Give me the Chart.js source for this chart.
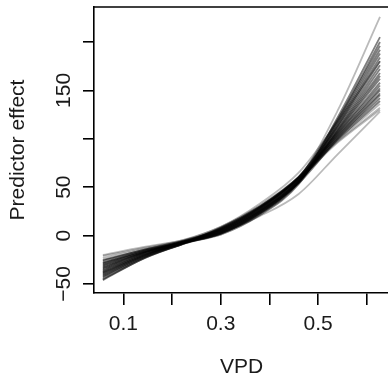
<!DOCTYPE html>
<html>
<head>
<meta charset="utf-8">
<script src="https://cdn.jsdelivr.net/npm/chart.js@4/dist/chart.umd.min.js"></script>
<style>
  html, body { margin: 0; padding: 0; background: #fff; overflow: hidden; }
  #wrap { width: 390px; height: 379px; position: relative; }
</style>
</head>
<body>
<div id="wrap"><canvas id="c"></canvas></div>
<script>
// VPD values at which each fitted curve was sampled
const VPD = [0.058, 0.14, 0.22, 0.30, 0.38, 0.46, 0.54, 0.627];

// predictor effect of each bootstrap fit
const FITS = [
  [-44, -23, -9, 3, 24, 58, 129, 226],
  [-46, -24, -9, 2, 22, 55, 122, 205],
  [-45, -24, -9, 6, 28, 60, 120, 200],
  [-43, -23, -9, 4, 25, 56, 119, 196],
  [-42, -22, -8, 1, 21, 53, 117, 192],
  [-41, -22, -8, 7, 29, 60, 116, 188],
  [-40, -21, -8, 5, 26, 57, 114, 184],
  [-39, -21, -8, 3, 23, 55, 113, 180],
  [-38, -20, -8, 8, 30, 61, 112, 176],
  [-37, -20, -8, 4, 25, 57, 110, 172],
  [-36, -19, -8, 2, 23, 55, 109, 168],
  [-35, -19, -8, 6, 27, 58, 108, 165],
  [-34, -18, -7, 5, 26, 56, 107, 162],
  [-33, -18, -7, 7, 29, 60, 106, 158],
  [-32, -18, -7, 3, 24, 55, 105, 155],
  [-31, -17, -7, 5, 27, 58, 104, 152],
  [-30, -17, -7, 8, 30, 60, 103, 150],
  [-29, -16, -7, 4, 25, 56, 102, 147],
  [-28, -16, -7, 6, 28, 59, 101, 145],
  [-26, -15, -6, 2, 23, 54, 100, 142],
  [-25, -15, -6, 7, 29, 59,  99, 139],
  [-23, -14, -6, 5, 26, 57,  98, 136],
  [-21, -13, -5, 9, 31, 60,  97, 132],
  [-20, -12, -5, 6, 28, 58,  96, 130],
  [-38, -21, -6, 9, 33, 65, 118, 180],
  [-28, -17, -7, 3, 20, 43,  84, 128],
];

const X_TICKS = [0.1, 0.2, 0.3, 0.4, 0.5, 0.6];
const X_LABELS = ["0.1", "", "0.3", "", "0.5", ""];
const Y_TICKS = [-50, 0, 50, 100, 150, 200];
const Y_LABELS = ["\u221250", "0", "50", "", "150", ""];

const LIGHT = [0, 21, 22, 23, 24, 25];   // fits drawn in a paler grey
const FONT = "21px 'Liberation Sans', Arial, sans-serif";
const INK = "#1a1a1a";

const datasets = FITS.map((vals, i) => ({
  data: vals.map((y, j) => ({ x: VPD[j], y })),
  borderColor: LIGHT.includes(i) ? "rgba(0,0,0,0.27)" : "rgba(0,0,0,0.5)",
  borderWidth: 1.8,
  pointRadius: 0,
  cubicInterpolationMode: "monotone",
  fill: false,
}));

// axis text, top border of the box (R style plot)
const rAxes = {
  id: "rAxes",
  afterDraw(chart) {
    const { ctx, chartArea: a, scales: { x, y } } = chart;
    ctx.save();
    ctx.strokeStyle = "#000";
    ctx.lineWidth = 1.6;
    ctx.beginPath();
    ctx.moveTo(a.left, a.top);
    ctx.lineTo(a.right + 2, a.top);
    ctx.stroke();

    ctx.fillStyle = INK;
    ctx.font = FONT;
    ctx.textAlign = "center";
    ctx.textBaseline = "middle";
    X_TICKS.forEach((v, i) => {
      if (X_LABELS[i]) ctx.fillText(X_LABELS[i], x.getPixelForValue(v), 324);
    });
    ctx.fillText("VPD", (a.left + a.right) / 2, 367);

    Y_TICKS.forEach((v, i) => {
      if (!Y_LABELS[i]) return;
      ctx.save();
      ctx.translate(64, y.getPixelForValue(v));
      ctx.rotate(-Math.PI / 2);
      ctx.fillText(Y_LABELS[i], 0, 0);
      ctx.restore();
    });
    ctx.save();
    ctx.translate(18, (a.top + a.bottom) / 2);
    ctx.rotate(-Math.PI / 2);
    ctx.fillText("Predictor effect", 0, 0);
    ctx.restore();
    ctx.restore();
  },
};

new Chart(document.getElementById("c"), {
  type: "line",
  data: { datasets },
  options: {
    responsive: true,
    maintainAspectRatio: false,
    animation: false,
    layout: { padding: { top: 7, right: 1, left: 0, bottom: 0 } },
    plugins: { legend: { display: false }, tooltip: { enabled: false } },
    scales: {
      x: {
        type: "linear",
        min: 0.0398,
        max: 0.6455,
        afterBuildTicks: (s) => { s.ticks = X_TICKS.map((value) => ({ value })); },
        afterFit: (s) => { s.height = 86; },
        ticks: { display: false },
        grid: { drawOnChartArea: false, color: "#000", lineWidth: 1.6, tickLength: 12 },
        border: { display: true, color: "#000", width: 1.6 },
      },
      y: {
        min: -59.3,
        max: 236.1,
        afterBuildTicks: (s) => { s.ticks = Y_TICKS.map((value) => ({ value })); },
        afterFit: (s) => { s.width = 94; },
        ticks: { display: false },
        grid: { drawOnChartArea: false, color: "#000", lineWidth: 1.6, tickLength: 11 },
        border: { display: true, color: "#000", width: 1.6 },
      },
    },
  },
  plugins: [rAxes],
});
</script>
</body>
</html>
